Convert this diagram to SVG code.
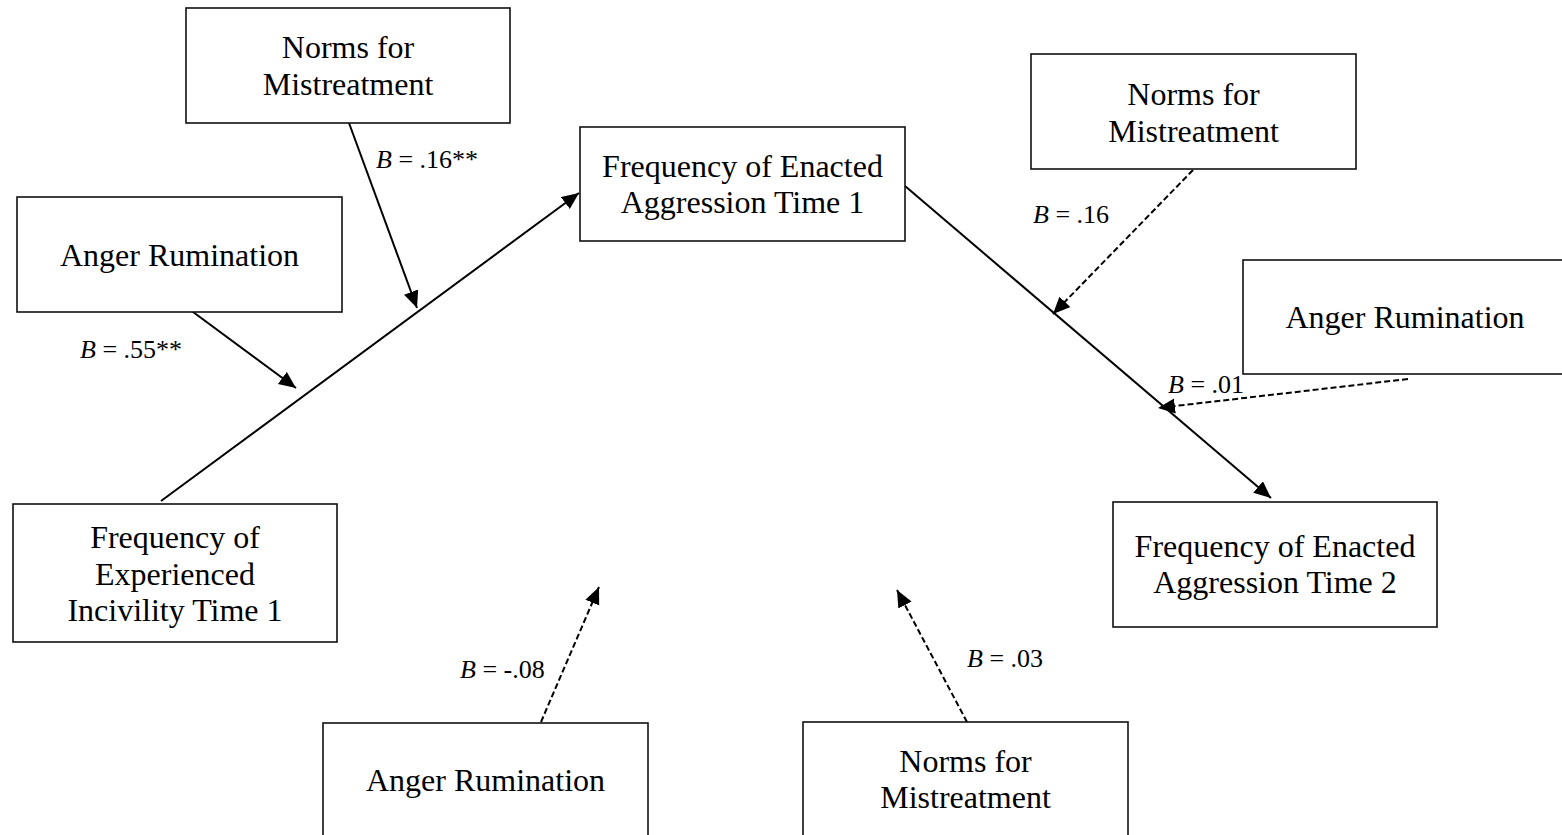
<svg xmlns="http://www.w3.org/2000/svg" width="1562" height="835" viewBox="0 0 1562 835">
  <style>
    .box { fill: #ffffff; stroke: #111111; stroke-width: 1.6; }
    .lbl { font-family: "Liberation Serif", "Times New Roman", serif; font-size: 32px; fill: #000; text-anchor: middle; }
    .coef { font-family: "Liberation Serif", "Times New Roman", serif; font-size: 26px; fill: #000; }
    .coef tspan.b { font-style: italic; }
    .path { stroke: #000; stroke-width: 2; fill: none; marker-end: url(#head); }
    .dash { stroke-dasharray: 6 3; }
  </style>
  <defs>
    <marker id="head" markerUnits="userSpaceOnUse" markerWidth="18" markerHeight="16" refX="17" refY="7.5" orient="auto">
      <path d="M0,0 L17,7.5 L0,15 z" fill="#000"/>
    </marker>
  </defs>
  <rect width="1562" height="835" fill="#ffffff"/>

  <g id="connectors">
    <line class="path" x1="161" y1="501" x2="579" y2="193"/>
    <line class="path" x1="905" y1="186" x2="1271" y2="498"/>
    <line class="path" x1="349" y1="123" x2="417" y2="308"/>
    <line class="path" x1="189" y1="309" x2="296" y2="388"/>
    <line class="path dash" x1="1193" y1="170" x2="1053" y2="314"/>
    <line class="path dash" x1="1408" y1="379" x2="1158" y2="408"/>
    <line class="path dash" x1="541" y1="722" x2="599" y2="587"/>
    <line class="path dash" x1="967" y1="722" x2="897" y2="590"/>
  </g>

  <g id="coefficients">
    <text class="coef" x="376" y="168"><tspan class="b">B</tspan> = .16**</text>
    <text class="coef" x="80" y="358"><tspan class="b">B</tspan> = .55**</text>
    <text class="coef" x="1033" y="223"><tspan class="b">B</tspan> = .16</text>
    <text class="coef" x="1168" y="393"><tspan class="b">B</tspan> = .01</text>
    <text class="coef" x="460" y="678"><tspan class="b">B</tspan> = -.08</text>
    <text class="coef" x="967" y="667"><tspan class="b">B</tspan> = .03</text>
  </g>

  <g id="norms-top">
    <rect class="box" x="186" y="8" width="324" height="115"/>
    <text class="lbl" x="348" y="58">Norms for</text>
    <text class="lbl" x="348" y="95">Mistreatment</text>
  </g>

  <g id="anger-left">
    <rect class="box" x="17" y="197" width="325" height="115"/>
    <text class="lbl" x="179.5" y="266">Anger Rumination</text>
  </g>

  <g id="incivility-t1">
    <rect class="box" x="13" y="504" width="324" height="138"/>
    <text class="lbl" x="175" y="548">Frequency of</text>
    <text class="lbl" x="175" y="584.5">Experienced</text>
    <text class="lbl" x="175" y="621">Incivility Time 1</text>
  </g>

  <g id="aggression-t1">
    <rect class="box" x="580" y="127" width="325" height="114"/>
    <text class="lbl" x="742.5" y="177">Frequency of Enacted</text>
    <text class="lbl" x="742.5" y="213">Aggression Time 1</text>
  </g>

  <g id="norms-right">
    <rect class="box" x="1031" y="54" width="325" height="115"/>
    <text class="lbl" x="1193.5" y="105">Norms for</text>
    <text class="lbl" x="1193.5" y="142">Mistreatment</text>
  </g>

  <g id="anger-right">
    <rect class="box" x="1243" y="260" width="325" height="114"/>
    <text class="lbl" x="1405" y="328">Anger Rumination</text>
  </g>

  <g id="aggression-t2">
    <rect class="box" x="1113" y="502" width="324" height="125"/>
    <text class="lbl" x="1275" y="557">Frequency of Enacted</text>
    <text class="lbl" x="1275" y="593">Aggression Time 2</text>
  </g>

  <g id="anger-bottom">
    <rect class="box" x="323" y="723" width="325" height="120"/>
    <text class="lbl" x="485.5" y="791">Anger Rumination</text>
  </g>

  <g id="norms-bottom">
    <rect class="box" x="803" y="722" width="325" height="120"/>
    <text class="lbl" x="965.5" y="772">Norms for</text>
    <text class="lbl" x="965.5" y="808">Mistreatment</text>
  </g>
</svg>
